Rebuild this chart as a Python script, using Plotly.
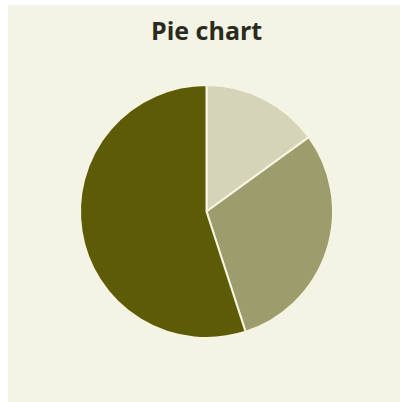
import plotly.graph_objects as go

# Slice data, listed clockwise from 12 o'clock
categories = ["A", "B", "C"]
values = [15, 30, 55]
colors = ["#d4d4b9", "#9d9c6c", "#5e5b06"]

W, H = 400, 402
bg = "#f3f3e6"

fig = go.Figure(
    go.Pie(
        labels=categories,
        values=values,
        sort=False,
        direction="clockwise",
        rotation=0,
        textinfo="none",
        hoverinfo="label+value",
        marker=dict(colors=colors, line=dict(color="#f7f5e1", width=2)),
        domain=dict(x=[80 / W, 333 / W], y=[1 - 338 / H, 1 - 85 / H]),
        showlegend=False,
    )
)

fig.update_layout(
    width=W,
    height=H,
    margin=dict(l=0, r=0, t=0, b=0),
    paper_bgcolor="white",
    plot_bgcolor="white",
    shapes=[
        dict(
            type="rect",
            xref="paper",
            yref="paper",
            x0=8 / W,
            x1=1,
            y0=0,
            y1=1 - 5 / H,
            fillcolor=bg,
            line=dict(width=0),
            layer="below",
        )
    ],
    annotations=[
        dict(
            text="<b>Pie chart</b>",
            x=206 / W,
            y=1 - 30 / H,
            xref="paper",
            yref="paper",
            xanchor="center",
            yanchor="middle",
            showarrow=False,
            font=dict(family="Open Sans", size=25, color="#2b2b1c"),
        )
    ],
)

fig.write_html("out.html")
